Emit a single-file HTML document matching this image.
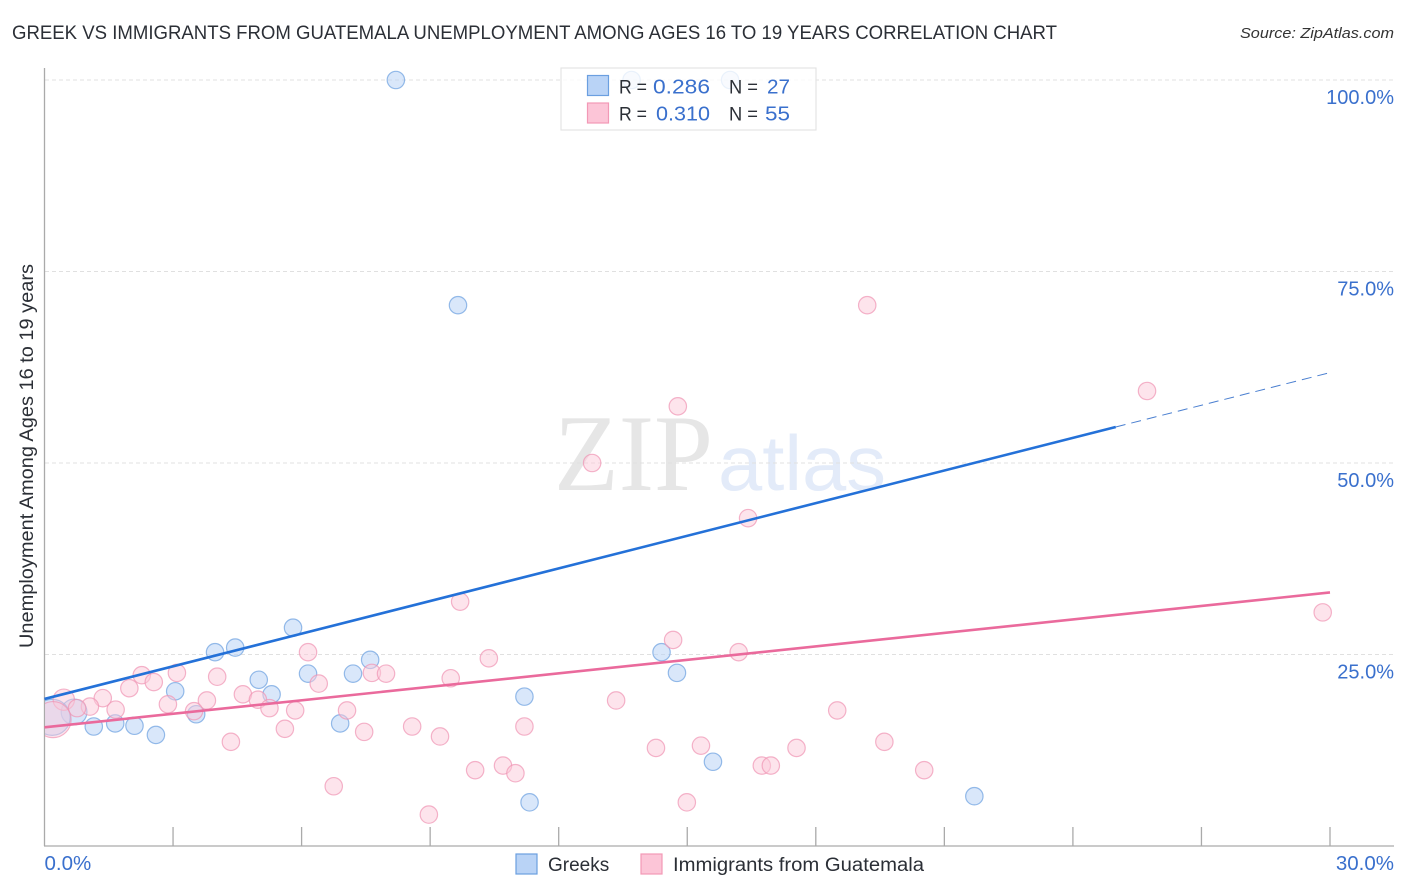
<!DOCTYPE html>
<html lang="en">
<head>
<meta charset="utf-8">
<title>Greek vs Immigrants from Guatemala Unemployment Correlation Chart</title>
<style>
html,body{margin:0;padding:0;background:#fff;}
svg{display:block;font-family:"Liberation Sans",sans-serif;}
</style>
</head>
<body>
<svg id="chart" xmlns="http://www.w3.org/2000/svg" width="1406" height="892" viewBox="0 0 1406 892">
  <defs>
    <clipPath id="plot-clip"><rect x="45" y="60" width="1360" height="786"/></clipPath>
  </defs>
  <rect x="0" y="0" width="1406" height="892" fill="#ffffff"/>
  <text x="12" y="39" font-size="19" fill="#2b2f36" textLength="1045" lengthAdjust="spacingAndGlyphs">GREEK VS IMMIGRANTS FROM GUATEMALA UNEMPLOYMENT AMONG AGES 16 TO 19 YEARS CORRELATION CHART</text>
  <text x="1394" y="38" font-size="15" font-style="italic" fill="#333" text-anchor="end" textLength="154" lengthAdjust="spacingAndGlyphs">Source: ZipAtlas.com</text>
  <g>
    <text x="554" y="490" font-family="'Liberation Serif',serif" font-size="109" fill="#e6e6e6" textLength="159" lengthAdjust="spacingAndGlyphs">ZIP</text>
    <text x="718" y="490" font-size="78" fill="#e3ebf9" textLength="168" lengthAdjust="spacingAndGlyphs">atlas</text>
  </g>
  <g id="grid"></g>
  <g id="axes"></g>
  <text transform="translate(33,456) rotate(-90)" font-size="19" fill="#2b2f36" text-anchor="middle" textLength="384" lengthAdjust="spacingAndGlyphs">Unemployment Among Ages 16 to 19 years</text>
  <g id="points-greeks" clip-path="url(#plot-clip)"></g>
  <g id="points-guatemala" clip-path="url(#plot-clip)"></g>
  <g id="trends"></g>
  <g>
    <rect x="561" y="68" width="255" height="62" fill="#ffffff" fill-opacity="0.8" stroke="#e4e4e4" stroke-width="1.2"/>
    <rect x="587.5" y="75.5" width="21" height="20" fill="#b9d3f6" stroke="#6b9fe0" stroke-width="1.2"/>
    <rect x="587.5" y="103" width="21" height="20" fill="#fcc5d7" stroke="#f299b6" stroke-width="1.2"/>
    <text x="619" y="93.5" font-size="19" fill="#2b2f36" textLength="28" lengthAdjust="spacingAndGlyphs">R =</text>
    <text x="653" y="93.5" font-size="20.5" fill="#3a70cd" textLength="57" lengthAdjust="spacingAndGlyphs">0.286</text>
    <text x="729" y="93.5" font-size="19" fill="#2b2f36" textLength="29" lengthAdjust="spacingAndGlyphs">N =</text>
    <text x="767" y="93.5" font-size="20.5" fill="#3a70cd" textLength="23" lengthAdjust="spacingAndGlyphs">27</text>
    <text x="619" y="120.5" font-size="19" fill="#2b2f36" textLength="28" lengthAdjust="spacingAndGlyphs">R =</text>
    <text x="656" y="120.5" font-size="20.5" fill="#3a70cd" textLength="54" lengthAdjust="spacingAndGlyphs">0.310</text>
    <text x="729" y="120.5" font-size="19" fill="#2b2f36" textLength="29" lengthAdjust="spacingAndGlyphs">N =</text>
    <text x="765" y="120.5" font-size="20.5" fill="#3a70cd" textLength="25" lengthAdjust="spacingAndGlyphs">55</text>
  </g>
  <g>
    <rect x="516" y="854" width="21" height="20" fill="#b9d3f6" stroke="#6b9fe0" stroke-width="1.2"/>
    <text x="548" y="871" font-size="19" fill="#2b2f36">Greeks</text>
    <rect x="641" y="854" width="21" height="20" fill="#fcc5d7" stroke="#f299b6" stroke-width="1.2"/>
    <text x="673" y="871" font-size="19" fill="#2b2f36" textLength="251" lengthAdjust="spacingAndGlyphs">Immigrants from Guatemala</text>
  </g>
</svg>
<script>
const xTickValues = [0, 3, 6, 9, 12, 15, 18, 21, 24, 27, 30];
const xTickLabels = ["0.0%", "", "", "", "", "", "", "", "", "", "30.0%"];
const yTickValues = [100, 75, 50, 25];
const yTickLabels = ["100.0%", "75.0%", "50.0%", "25.0%"];

const greeksX = [8.2, 13.7, 16.0, 9.65, 5.8, 4.45, 3.98, 14.4, 7.6, 14.76, 7.2, 6.15, 5.0, 3.05, 5.3, 11.2, 3.54, 0.69, 1.15, 1.65, 2.1, 2.6, 6.9, 15.6, 11.32, 21.7, 0.18];
const greeksY = [100, 100, 100, 70.6, 28.5, 25.9, 25.3, 25.3, 24.3, 22.6, 22.5, 22.5, 21.7, 20.2, 19.8, 19.5, 17.2, 17.5, 15.6, 16, 15.7, 14.5, 16, 11, 5.7, 6.5, 16.8];
const greeksSize = [1, 1, 1, 1, 1, 1, 1, 1, 1, 1, 1, 1, 1, 1, 1, 1, 1, 2.2, 1, 1, 1, 1, 1, 1, 1, 1, 4.3];

const guatemalaX = [19.2, 25.73, 14.78, 12.78, 16.42, 9.7, 29.83, 14.67, 6.15, 16.2, 10.37, 3.09, 2.27, 7.64, 7.97, 4.03, 2.55, 6.4, 9.48, 1.98, 4.63, 1.36, 3.79, 4.98, 0.45, 13.34, 2.88, 3.49, 1.66, 1.06, 5.25, 5.85, 0.76, 7.06, 18.5, 8.58, 11.2, 5.61, 7.46, 9.23, 4.35, 19.6, 15.32, 14.27, 17.55, 10.05, 10.7, 10.99, 16.74, 16.95, 20.53, 6.75, 8.97, 14.99, 0.2];
const guatemalaY = [70.6, 59.4, 57.4, 50, 42.8, 31.9, 30.5, 26.9, 25.3, 25.3, 24.5, 22.6, 22.3, 22.6, 22.5, 22.1, 21.4, 21.2, 21.9, 20.6, 19.8, 19.3, 19, 19.1, 19.1, 19, 18.5, 17.6, 17.8, 18.2, 18, 17.7, 18, 17.7, 17.7, 15.6, 15.6, 15.3, 14.9, 14.3, 13.6, 13.6, 13.1, 12.8, 12.8, 9.9, 10.5, 9.5, 10.5, 10.5, 9.9, 7.8, 4.1, 5.7, 16.5];
const guatemalaSize = [1, 1, 1, 1, 1, 1, 1, 1, 1, 1, 1, 1, 1, 1, 1, 1, 1, 1, 1, 1, 1, 1, 1, 1, 1.5, 1, 1, 1, 1, 1, 1, 1, 1, 1, 1, 1, 1, 1, 1, 1, 1, 1, 1, 1, 1, 1, 1, 1, 1, 1, 1, 1, 1, 1, 4.3];

const greeksTrendX = [0, 25, 30];
const greeksTrendY = [19.2, 54.7, 61.8];
const guatemalaTrendX = [0, 30];
const guatemalaTrendY = [15.5, 33.1];

const NS = "http://www.w3.org/2000/svg";
function xScale(v) { return 44.5 + v * 42.85; }
function yScale(v) { return 846 - v * 7.66; }
function radius(s) { return 8.7 * Math.sqrt(s); }

const grid = document.getElementById("grid");
const axes = document.getElementById("axes");

yTickValues.forEach(function (v, i) {
  const line = document.createElementNS(NS, "line");
  
  
  line.setAttribute("x1", 45);
  line.setAttribute("x2", 1394);
  line.setAttribute("y1", yScale(v));
  line.setAttribute("y2", yScale(v));
  line.setAttribute("stroke", "#e0e0e0");
  line.setAttribute("stroke-width", "1");
  line.setAttribute("stroke-dasharray", "4 3");
  grid.appendChild(line);
  const label = document.createElementNS(NS, "text");
  
  
  label.setAttribute("x", 1394);
  label.setAttribute("y", yScale(v) + 24);
  label.setAttribute("font-size", "20");
  label.setAttribute("fill", "#3a70cd");
  label.setAttribute("text-anchor", "end");
  label.textContent = yTickLabels[i];
  axes.appendChild(label);
});

const yAxis = document.createElementNS(NS, "line");


yAxis.setAttribute("x1", 44.5);
yAxis.setAttribute("x2", 44.5);
yAxis.setAttribute("y1", 68);
yAxis.setAttribute("y2", 846);
yAxis.setAttribute("stroke", "#aaaaaa");
yAxis.setAttribute("stroke-width", "1.3");
axes.appendChild(yAxis);

const xAxis = document.createElementNS(NS, "line");


xAxis.setAttribute("x1", 44);
xAxis.setAttribute("x2", 1394);
xAxis.setAttribute("y1", 846);
xAxis.setAttribute("y2", 846);
xAxis.setAttribute("stroke", "#aaaaaa");
xAxis.setAttribute("stroke-width", "1.3");
axes.appendChild(xAxis);

xTickValues.forEach(function (v, i) {
  if (i > 0) {
    const tick = document.createElementNS(NS, "line");
    
    
    tick.setAttribute("x1", xScale(v));
    tick.setAttribute("x2", xScale(v));
    tick.setAttribute("y1", 827);
    tick.setAttribute("y2", 846);
    tick.setAttribute("stroke", "#aaaaaa");
    tick.setAttribute("stroke-width", "1.3");
    axes.appendChild(tick);
  }
  if (xTickLabels[i]) {
    const label = document.createElementNS(NS, "text");
    
    
    label.setAttribute("x", i === 0 ? xScale(v) : 1394);
    label.setAttribute("y", 870);
    label.setAttribute("font-size", "20.5");
    label.setAttribute("fill", "#3a70cd");
    label.setAttribute("text-anchor", i === 0 ? "start" : "end");
    label.textContent = xTickLabels[i];
    axes.appendChild(label);
  }
});

function drawPoints(groupId, xs, ys, sizes, fill, stroke, fillOpacity, name) {
  const group = document.getElementById(groupId);
  xs.forEach(function (x, i) {
    const c = document.createElementNS(NS, "circle");
    
    
    c.setAttribute("cx", xScale(x));
    c.setAttribute("cy", yScale(ys[i]));
    c.setAttribute("r", radius(sizes[i]));
    c.setAttribute("fill", fill);
    c.setAttribute("fill-opacity", fillOpacity);
    c.setAttribute("stroke", stroke);
    c.setAttribute("stroke-opacity", "0.7");
    c.setAttribute("stroke-width", "1.2");
    group.appendChild(c);
  });
}
drawPoints("points-greeks", greeksX, greeksY, greeksSize, "#b9d3f6", "#6b9fe0", "0.55", "greeks-point");
drawPoints("points-guatemala", guatemalaX, guatemalaY, guatemalaSize, "#fbc9da", "#ef94b3", "0.5", "guatemala-point");

const trends = document.getElementById("trends");
function drawSegment(x1, y1, x2, y2, color, width, dash, name) {
  const l = document.createElementNS(NS, "line");
  
  
  l.setAttribute("x1", xScale(x1));
  l.setAttribute("y1", yScale(y1));
  l.setAttribute("x2", xScale(x2));
  l.setAttribute("y2", yScale(y2));
  l.setAttribute("stroke", color);
  l.setAttribute("stroke-width", width);
  if (dash) { l.setAttribute("stroke-dasharray", dash); }
  trends.appendChild(l);
}
drawSegment(greeksTrendX[0], greeksTrendY[0], greeksTrendX[1], greeksTrendY[1], "#2471d8", 2.6, null, "greeks-trend-line");
drawSegment(greeksTrendX[1], greeksTrendY[1], greeksTrendX[2], greeksTrendY[2], "#4a7fd0", 1, "10 6", "greeks-trend-extrapolation");
drawSegment(guatemalaTrendX[0], guatemalaTrendY[0], guatemalaTrendX[1], guatemalaTrendY[1], "#ea6a9c", 2.6, null, "guatemala-trend-line");
</script>
</body>
</html>
